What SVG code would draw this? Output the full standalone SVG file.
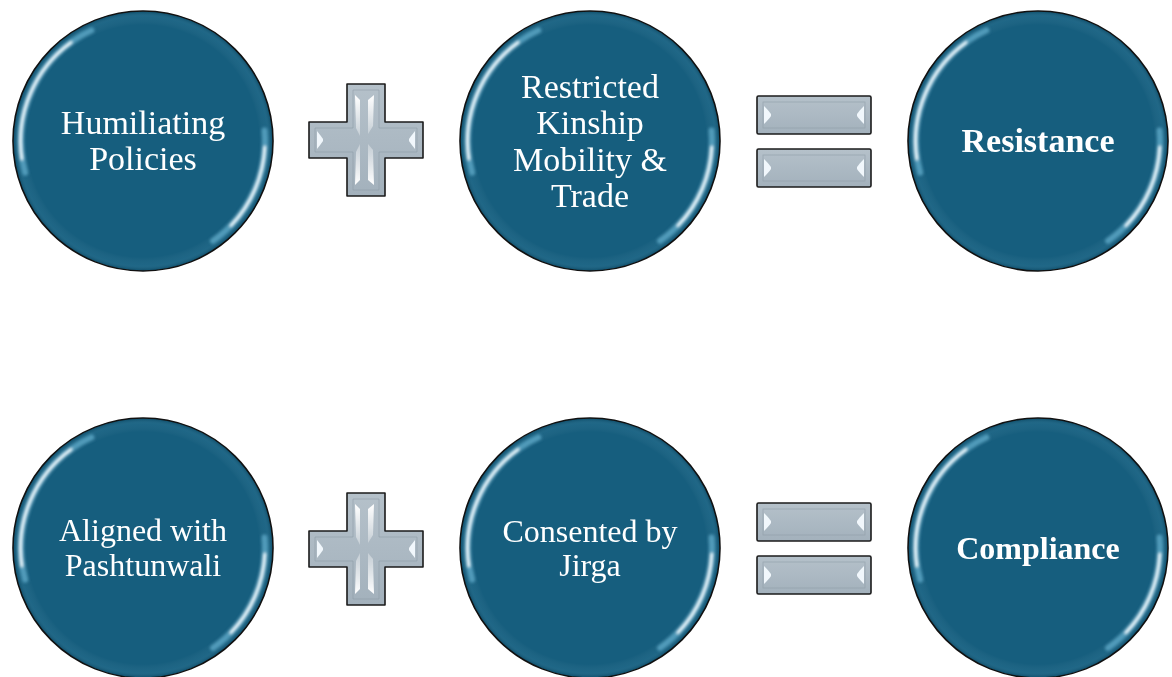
<svg xmlns="http://www.w3.org/2000/svg" xmlns:xlink="http://www.w3.org/1999/xlink" width="1172" height="677" viewBox="0 0 1172 677">
  <style>
    .disc { fill: #165E7E; stroke: #111; stroke-width: 1.6; }
    .rim { fill: url(#rimGrad); }
    .lbl { font-family: "Liberation Serif", "Times New Roman", serif; font-size: 34px; fill: #ffffff; text-anchor: middle; }
    .sm { font-size: 32px; }
    .bold { font-weight: bold; }
    .hlA { fill: none; stroke: #7cc8e8; stroke-width: 6; stroke-linecap: round; opacity: 0.55; }
    .hlB { fill: none; stroke: #f2fbff; stroke-width: 3.2; stroke-linecap: round; opacity: 1; }
    .op { fill: url(#grayGrad); stroke: #1b1b1b; stroke-width: 1.6; stroke-linejoin: round; }
    .opInner { fill: none; stroke: #8e9ca7; stroke-width: 0.8; opacity: 0.7; }
    .shine { fill: url(#shineGrad); }
    .endShine { fill: #f4fbff; opacity: 0.95; }
  </style>
  <defs>
    <radialGradient id="rimGrad" cx="0.5" cy="0.5" r="0.5">
      <stop offset="0.9" stop-color="#ffffff" stop-opacity="0"/>
      <stop offset="0.96" stop-color="#7fc2de" stop-opacity="0.08"/>
      <stop offset="1" stop-color="#0b3a50" stop-opacity="0.3"/>
    </radialGradient>
    <linearGradient id="grayGrad" x1="0" y1="0" x2="0" y2="1">
      <stop offset="0" stop-color="#b5c1ca"/>
      <stop offset="1" stop-color="#a3b1bc"/>
    </linearGradient>
    <linearGradient id="shineGrad" x1="0" y1="0" x2="0" y2="1">
      <stop offset="0" stop-color="#ffffff" stop-opacity="1"/>
      <stop offset="1" stop-color="#ffffff" stop-opacity="0.3"/>
    </linearGradient>
    <linearGradient id="shineGradUp" x1="0" y1="1" x2="0" y2="0">
      <stop offset="0" stop-color="#ffffff" stop-opacity="1"/>
      <stop offset="1" stop-color="#ffffff" stop-opacity="0.3"/>
    </linearGradient>
    <filter id="soft" x="-20%" y="-20%" width="140%" height="140%">
      <feGaussianBlur stdDeviation="1.4"/>
    </filter>
    <filter id="soft2" x="-20%" y="-20%" width="140%" height="140%">
      <feGaussianBlur stdDeviation="0.45"/>
    </filter>
    <g id="ball">
      <circle class="disc" cx="0" cy="0" r="130"/>
      <circle class="rim" cx="0" cy="0" r="129"/>
      <g filter="url(#soft)">
        <path class="hlA" d="M -117.8 31.6 A 122 122 0 0 1 -51.6 -110.6"/>
        <path class="hlB" d="M -121.2 18 A 122 122 0 0 1 -72 -98.5"/>
        <path class="hlA" d="M 121.5 -10.6 A 122 122 0 0 1 70.0 99.9"/>
        <path class="hlB" d="M 121.8 6 A 122 122 0 0 1 88 84.5"/>
      </g>
    </g>
    <g id="plus">
      <path class="op" d="M -19 -56 H 19 V -18 H 57 V 18 H 19 V 56 H -19 V 18 H -57 V -18 H -19 Z"/>
      <path class="opInner" d="M -13 -50 H 13 V -12 H 51 V 12 H 13 V 50 H -13 V 12 H -51 V -12 H -13 Z"/>
      <g filter="url(#soft2)">
        <path class="shine" d="M -11 -45 L -6 -40 L -6 -4 L -10 -12 Z"/>
        <path class="shine" d="M 8 -45 L 2 -40 L 2 -6 L 7 -14 Z"/>
        <path fill="url(#shineGradUp)" d="M -11 45 L -6 40 L -6 4 L -10 12 Z"/>
        <path fill="url(#shineGradUp)" d="M 8 45 L 2 40 L 2 4 L 7 10 Z"/>
        <path class="endShine" d="M -49 -9 Q -45 -4 -43 -1 L -43 1 Q -45 4 -49 9 Z"/>
        <path class="endShine" d="M 49 -9 Q 45 -4 43 -1 L 43 1 Q 45 4 49 9 Z"/>
      </g>
    </g>
    <g id="bar">
      <rect class="op" x="-57" y="-19" width="114" height="38" rx="1.5"/>
      <rect class="opInner" x="-51" y="-13" width="102" height="26"/>
      <g filter="url(#soft2)">
        <path class="endShine" d="M -50 -9 Q -45 -4 -43 -1 L -43 1 Q -45 4 -50 9 Z"/>
        <path class="endShine" d="M 50 -9 Q 45 -4 43 -1 L 43 1 Q 45 4 50 9 Z"/>
      </g>
    </g>
  </defs>

  <rect x="0" y="0" width="1172" height="677" fill="#ffffff"/>

  <g id="node-humiliating">
    <use xlink:href="#ball" href="#ball" transform="translate(143,141)"/>
    <text class="lbl" x="143" y="134">Humiliating</text>
    <text class="lbl" x="143" y="170">Policies</text>
  </g>
  <g id="node-restricted">
    <use xlink:href="#ball" href="#ball" transform="translate(590,141)"/>
    <text class="lbl" x="590" y="98">Restricted</text>
    <text class="lbl" x="590" y="134">Kinship</text>
    <text class="lbl" x="590" y="171">Mobility &amp;</text>
    <text class="lbl" x="590" y="207">Trade</text>
  </g>
  <g id="node-resistance">
    <use xlink:href="#ball" href="#ball" transform="translate(1038,141)"/>
    <text class="lbl bold" x="1038" y="152">Resistance</text>
  </g>

  <g id="node-aligned">
    <use xlink:href="#ball" href="#ball" transform="translate(143,548)"/>
    <text class="lbl sm" x="143" y="541">Aligned with</text>
    <text class="lbl sm" x="143" y="576">Pashtunwali</text>
  </g>
  <g id="node-consented">
    <use xlink:href="#ball" href="#ball" transform="translate(590,548)"/>
    <text class="lbl sm" x="590" y="542">Consented by</text>
    <text class="lbl sm" x="590" y="576">Jirga</text>
  </g>
  <g id="node-compliance">
    <use xlink:href="#ball" href="#ball" transform="translate(1038,548)"/>
    <text class="lbl sm bold" x="1038" y="559">Compliance</text>
  </g>

  <g id="connectors">
    <g id="op-plus-1"><use xlink:href="#plus" href="#plus" transform="translate(366,140)"/></g>
    <g id="op-equals-1">
      <use xlink:href="#bar" href="#bar" transform="translate(814,115)"/>
      <use xlink:href="#bar" href="#bar" transform="translate(814,168)"/>
    </g>
    <g id="op-plus-2"><use xlink:href="#plus" href="#plus" transform="translate(366,549)"/></g>
    <g id="op-equals-2">
      <use xlink:href="#bar" href="#bar" transform="translate(814,522)"/>
      <use xlink:href="#bar" href="#bar" transform="translate(814,575)"/>
    </g>
  </g>
</svg>
